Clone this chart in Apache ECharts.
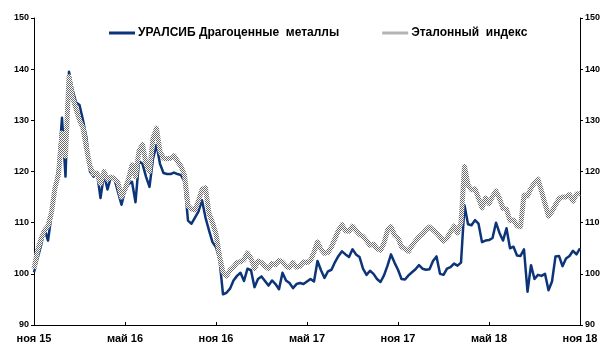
<!DOCTYPE html>
<html>
<head>
<meta charset="utf-8">
<script src="https://cdn.jsdelivr.net/npm/echarts@6/dist/echarts.min.js"></script>
<style>
html,body{margin:0;padding:0;background:#fff;}
#chart{width:615px;height:356px;}
</style>
</head>
<body>
<div id="chart"></div>
<script>
// ---- data ----
var startDate = '2015-11-02';
var weekCount = 157;
var tickLabels = ['ноя 15','май 16','ноя 16','май 17','ноя 17','май 18','ноя 18'];
var seriesNames = ['УРАЛСИБ Драгоценные  металлы','Эталонный  индекс'];
var fundValues = [100.3,103,105.5,108.8,106.5,111.5,116.5,121,130.5,119,
139.5,136,133.5,133,130,126.5,120,119,119.8,114.8,
119.5,116.5,119,118.5,116,113.5,116.3,117.5,118,114,
122,121.5,119,117,122.5,125.2,121.5,119.7,119.5,119.5,
119.8,119.5,119.3,118,110.4,109.8,111,112.2,114.4,111,
108.5,106.2,105.2,102.8,96,96.3,97.1,98.7,99.6,100.2,
98.6,101,100.7,97.4,99,99.5,98.6,97.7,98.7,98,
97,100.2,98.7,98.2,97.2,98,98.2,98,98.5,99,
98.5,102.5,100.7,99.2,100.5,100.8,102.3,103.5,104.4,103.8,
103.3,104.8,103.8,103.3,101,99.8,100.6,100,99,98.4,
99.7,101.6,103.8,102.2,100.8,99,98.9,99.7,100.3,100.9,
101.7,101,100.8,100.9,102.5,103.4,100,99.8,101,101.3,
102,101.6,102.2,113.4,109.7,109.5,110.5,109.8,106.2,106.5,
106.6,107,110,108,106.5,108.9,105,105.3,103.6,103.5,
104.8,96.5,101.7,99,99.8,99.6,100,96.8,98.5,103.4,
103.5,101.5,103,103.5,104.5,103.8,105];
var benchValues = [101,104.5,106.8,108.5,109.3,112,116.8,119.5,127.5,123,
138.5,134.5,132.3,130,128.5,124.5,121,119.5,119.7,117.6,
120,118.5,118.9,118.6,117.8,115,116.5,118.5,121.3,119,
124,125.3,121.5,120,126.5,128.5,124,122.6,122.5,122.6,
123.1,122,121,119.3,113.3,112.7,112.5,114.3,116.5,116.8,
111.8,110,107.8,103.5,100.3,99.6,100.7,101.3,102.2,102.4,
102.8,104.1,103,101,102.5,102.2,101.5,101,102,101.8,
102.6,102.3,101.5,101.2,102.2,101.3,101.5,102.3,102.2,102.6,
104.3,106.2,104.8,104,104.2,105.3,106.9,108.5,109.6,108.4,
108.3,109.3,108.5,107.7,107.3,106.5,105.6,105.8,104.9,104.6,
106,108.5,109.2,107.6,107,105.3,104.9,104.4,105.5,106.4,
107.2,107.8,108.6,109.2,108.6,108,107.2,106.4,107,108.2,
109.3,108,110,121,117.4,116.4,116.6,114.8,112.9,114.8,
113.7,115.1,116.2,114.7,112.8,112.6,110.4,110.5,109.4,109.2,
115.4,115.2,116.7,117.8,118.5,116.2,113.7,111.3,112.2,113.5,
114.7,115,115,115.5,114.2,115.6,115.7];

// categories: weekly dates
var categories = [];
(function(){
  var d = new Date(startDate + 'T00:00:00Z');
  for (var i = 0; i < weekCount; i++) {
    categories.push(d.toISOString().slice(0,10));
    d = new Date(d.getTime() + 7*86400000);
  }
})();

// checker pattern for benchmark line
var pc = document.createElement('canvas');
pc.width = 2; pc.height = 2;
var pctx = pc.getContext('2d');
pctx.fillStyle = '#ffffff'; pctx.fillRect(0,0,2,2);
pctx.fillStyle = '#6a6a6a'; pctx.fillRect(0,0,1,1); pctx.fillRect(1,1,1,1);
var checker = { image: pc, repeat: 'repeat' };

var FONT = '"Liberation Sans", Arial, sans-serif';
var BLUE = '#0c3478';
var tickEvery = 26;
function isTick(idx){ return idx % tickEvery === 0; }

var chart = echarts.init(document.getElementById('chart'), null, {renderer:'canvas'});
var yAxisCommon = {
  type: 'value', min: 90, max: 150, interval: 10,
  axisLine: {show: true, lineStyle: {color: '#000', width: 1}},
  axisTick: {show: true, length: 3, lineStyle: {color: '#000'}},
  splitLine: {show: false},
  axisLabel: {color: '#000', fontFamily: FONT, fontWeight: 'bold', fontSize: 9, margin: 5}
};
chart.setOption({
  animation: false,
  backgroundColor: '#fff',
  grid: {left: 34, right: 35, top: 18, bottom: 31, containLabel: false},
  legend: {
    left: 104, top: 22, itemWidth: 26, itemHeight: 3, itemGap: 43,
    textStyle: {color: '#000', fontFamily: FONT, fontWeight: 'bold', fontSize: 12, padding: [0,0,0,-2]},
    data: [
      {name: seriesNames[0], icon: 'rect', itemStyle: {color: BLUE}},
      {name: seriesNames[1], icon: 'rect', itemStyle: {color: checker}}
    ]
  },
  xAxis: {
    type: 'category', data: categories, boundaryGap: false,
    axisLine: {show: true, onZero: false, lineStyle: {color: '#000', width: 1}},
    axisTick: {show: true, inside: true, length: 3, interval: function(i){return isTick(i);}, lineStyle: {color: '#000'}},
    axisLabel: {
      color: '#000', fontFamily: FONT, fontWeight: 'bold', fontSize: 11, margin: 8,
      interval: function(i){return isTick(i);},
      formatter: function(v, i){ return tickLabels[i / tickEvery] || ''; }
    },
    splitLine: {show: false}
  },
  yAxis: [
    Object.assign({position: 'left'}, yAxisCommon),
    Object.assign({position: 'right'}, yAxisCommon)
  ],
  series: [
    {
      name: seriesNames[0], type: 'line', data: fundValues, yAxisIndex: 0,
      symbol: 'none', z: 2,
      lineStyle: {color: BLUE, width: 2.5, join: 'round'},
      itemStyle: {color: BLUE}
    },
    {
      name: seriesNames[1], type: 'line', data: benchValues, yAxisIndex: 0,
      symbol: 'none', z: 3,
      lineStyle: {color: checker, width: 5, join: 'round'},
      itemStyle: {color: checker}
    }
  ]
});
</script>
</body>
</html>
